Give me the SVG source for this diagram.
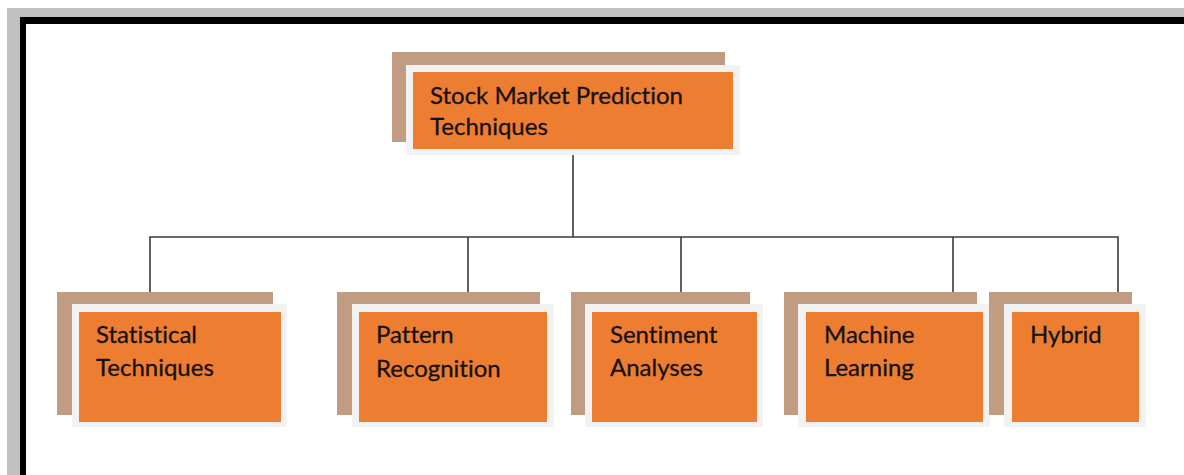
<svg xmlns="http://www.w3.org/2000/svg" width="1184" height="475" viewBox="0 0 1184 475">
<style>
.sh{fill:#c19c83}
.bd{fill:#f2f2f2}
.or{fill:#ed7d31}
.tx{font-family:Lato,"Liberation Sans",sans-serif;font-size:24px;fill:#151210;font-variant-ligatures:none;stroke:#151210;stroke-width:0.3}
.ln{fill:none;stroke:#3a3a3a;stroke-width:1.6}
</style>
<rect x="7" y="8" width="1177" height="467" fill="#c0c0c0"/>
<rect x="20" y="17" width="1164" height="458" fill="#000"/>
<rect x="26" y="24" width="1158" height="451" fill="#fff"/>
<g id="connectors">
<path class="ln" d="M573 155V237M150 304V237H1118V304M468 237V304M681 237V304M953 237V304"/>
</g>
<g id="root">
<rect class="sh" x="392" y="52" width="333" height="90"/>
<rect class="bd" x="406" y="65" width="334" height="90"/>
<rect class="or" x="413" y="72" width="320" height="77"/>
<text class="tx" x="430" y="104">Stock Market Prediction</text>
<text class="tx" x="430" y="135">Techniques</text>
</g>
<g id="statistical">
<rect class="sh" x="57" y="292" width="216" height="123"/>
<rect class="bd" x="72" y="304" width="215" height="123"/>
<rect class="or" x="79" y="312" width="202" height="110"/>
<text class="tx" x="96" y="343">Statistical</text>
<text class="tx" x="96" y="376">Techniques</text>
</g>
<g id="pattern">
<rect class="sh" x="337" y="292" width="203" height="123"/>
<rect class="bd" x="352" y="304" width="202" height="123"/>
<rect class="or" x="359" y="312" width="188" height="110"/>
<text class="tx" x="376" y="343">Pattern</text>
<text class="tx" x="376" y="377">Recognition</text>
</g>
<g id="sentiment">
<rect class="sh" x="571" y="292" width="179" height="123"/>
<rect class="bd" x="585" y="304" width="178" height="123"/>
<rect class="or" x="592" y="312" width="165" height="110"/>
<text class="tx" x="610" y="343">Sentiment</text>
<text class="tx" x="610" y="376">Analyses</text>
</g>
<g id="machine">
<rect class="sh" x="784" y="292" width="193" height="123"/>
<rect class="bd" x="798" y="304" width="192" height="123"/>
<rect class="or" x="806" y="312" width="177" height="110"/>
<text class="tx" x="824" y="343">Machine</text>
<text class="tx" x="824" y="376">Learning</text>
</g>
<g id="hybrid">
<rect class="sh" x="989" y="292" width="143" height="123"/>
<rect class="bd" x="1004" y="304" width="142" height="123"/>
<rect class="or" x="1012" y="312" width="127" height="110"/>
<text class="tx" x="1030" y="343">Hybrid</text>
</g>
</svg>
